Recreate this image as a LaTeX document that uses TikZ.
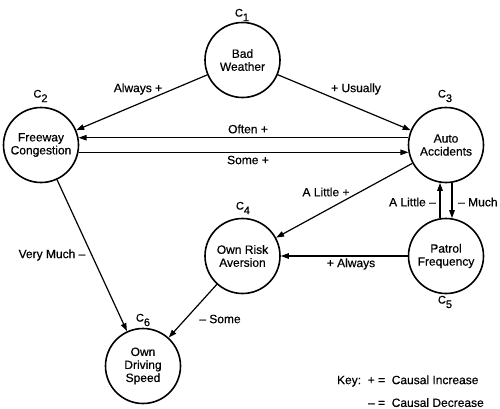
\documentclass[tikz,border=0pt]{standalone}
\usepackage{fontspec}
\setmainfont[FakeBold=0.5]{Liberation Sans}
\usepackage{tikz}
\usetikzlibrary{arrows.meta}

\newcommand{\ctag}[1]{C\raisebox{-4.5pt}{#1}}

\begin{document}
\begin{tikzpicture}[x=1pt, y=-1pt,
    concept/.style={draw, circle, line width=1.6pt, minimum size=75pt, inner sep=0pt,
                    align=center, font=\fontsize{12}{13}\selectfont},
    tag/.style={font=\fontsize{11}{11}\selectfont, inner sep=1pt},
    weight/.style={font=\fontsize{12}{13}\selectfont, inner sep=1pt},
    link/.style={line width=1.2pt, -{Triangle[length=8pt, width=5.5pt]}}
    ]
    \useasboundingbox (0,0) rectangle (500,408);

    % concepts
    \node[concept] (c1) at (242.5,60) {Bad\\Weather};
    \node[concept] (c2) at (41,145) {Freeway\\Congestion};
    \node[concept] (c3) at (446,145) {Auto\\Accidents};
    \node[concept] (c4) at (242.5,256) {Own Risk\\Aversion};
    \node[concept] (c5) at (446,256) {Patrol\\Frequency};
    \node[concept] (c6) at (143,366) {Own\\Driving\\Speed};

    % concept tags
    \node[tag] (t1) at (242,15) {\ctag{1}};
    \node[tag] (t2) at (40.5,96) {\ctag{2}};
    \node[tag] (t3) at (445,96) {\ctag{3}};
    \node[tag] (t4) at (243,208) {\ctag{4}};
    \node[tag] (t5) at (445,302) {\ctag{5}};
    \node[tag] (t6) at (143,320) {\ctag{6}};

    % causal links
    \draw[link] (c1) -- (c2);
    \draw[link] (c1) -- (c3);
    \draw[link] (c3.169) -- (c2.11);
    \draw[link] (c2.-11) -- (c3.191);
    \draw[link] (c3) -- (c4);
    \draw[link] (c5.99) -- (c3.261);
    \draw[link] (c3.-81) -- (c5.81);
    \draw[link] (c5) -- (c4);
    \draw[link] (c2) -- (c6);
    \draw[link] (c4) -- (c6);

    % link weights
    \node[weight] (w12) at (138,89) {Always +};
    \node[weight] (w13) at (356,89) {+ Usually};
    \node[weight] (w32) at (248,129) {Often +};
    \node[weight] (w23) at (248,160) {Some +};
    \node[weight] (w34) at (326,192) {A Little +};
    \node[weight, anchor=east] (w53) at (437,202) {A Little --};
    \node[weight, anchor=west] (w35) at (457,202) {-- Much};
    \node[weight] (w54) at (351,264) {+ Always};
    \node[weight] (w26) at (52,255) {Very Much --};
    \node[weight] (w46) at (220,319) {-- Some};

    % key
    \node[weight, anchor=north east] (key) at (485,367) {%
        \renewcommand{\arraystretch}{1.75}%
        \begin{tabular}{@{}r@{\ \ }l@{}}
            Key:\ \ + = & Causal Increase\\
            -- = & Causal Decrease
        \end{tabular}};
\end{tikzpicture}
\end{document}
